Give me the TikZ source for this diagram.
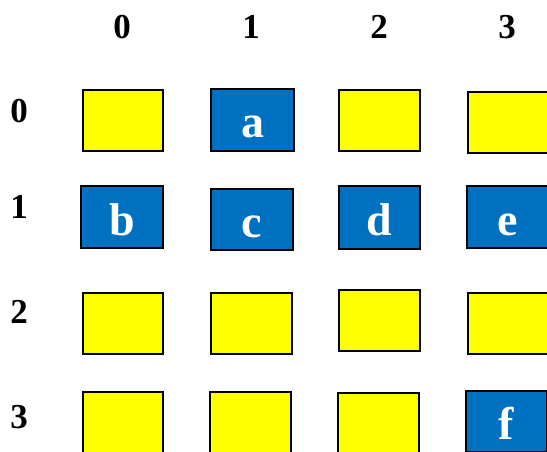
\documentclass[tikz,border=0pt]{standalone}
\usepackage{fontspec}
\setmainfont{Liberation Serif}
\definecolor{cellblue}{HTML}{0070C0}
\definecolor{cellyellow}{HTML}{FFFF00}
\tikzset{
  cell/.style={draw=black, line width=1.5pt, inner sep=0pt, minimum width=81pt, minimum height=61pt,
    text height=36pt, text depth=0pt, font=\bfseries\fontsize{46}{46}\selectfont},
  ycell/.style={cell, fill=cellyellow},
  bcell/.style={cell, fill=cellblue, text=white},
  hdr/.style={anchor=base, inner sep=0pt, font=\bfseries\fontsize{35}{35}\selectfont}
}
\begin{document}
\begin{tikzpicture}[x=1pt,y=-1pt]
\useasboundingbox (0,0) rectangle (547,452);
\clip (0,0) rectangle (547,452);
% column headers
\node[hdr] (h0) at (122,39) {0};
\node[hdr] (h1) at (251,39) {1};
\node[hdr] (h2) at (379,39) {2};
\node[hdr] (h3) at (507,39) {3};
% row headers
\node[hdr] (r0) at (19,123) {0};
\node[hdr] (r1) at (19,218) {1};
\node[hdr] (r2) at (19,323) {2};
\node[hdr] (r3) at (19,428) {3};
% row 0
\node[ycell, minimum width=80pt] (c00) at (123,120.5) {};
\node[bcell, minimum width=83pt, minimum height=62pt] (c01) at (252.5,120) {a};
\node[ycell] (c02) at (379.5,120.5) {};
\node[ycell, minimum width=80pt] (c03) at (508,122.5) {};
% row 1
\node[bcell, minimum width=82pt, minimum height=62pt] (c10) at (122,217) {b};
\node[bcell, minimum width=82pt] (c11) at (252,219.5) {c};
\node[bcell, minimum height=63pt] (c12) at (379.5,217.5) {d};
\node[bcell, minimum height=62pt] (c13) at (507.5,217) {e};
% row 2
\node[ycell, minimum width=80pt] (c20) at (123,323.5) {};
\node[ycell] (c21) at (251.5,323.5) {};
\node[ycell] (c22) at (379.5,320.5) {};
\node[ycell, minimum width=80pt] (c23) at (508,323.5) {};
% row 3
\node[ycell, minimum width=80pt] (c30) at (123,422.5) {};
\node[ycell] (c31) at (250.5,422.5) {};
\node[ycell] (c32) at (378.5,423.5) {};
\node[bcell] (c33) at (506.5,421.5) {f};
\end{tikzpicture}
\end{document}
